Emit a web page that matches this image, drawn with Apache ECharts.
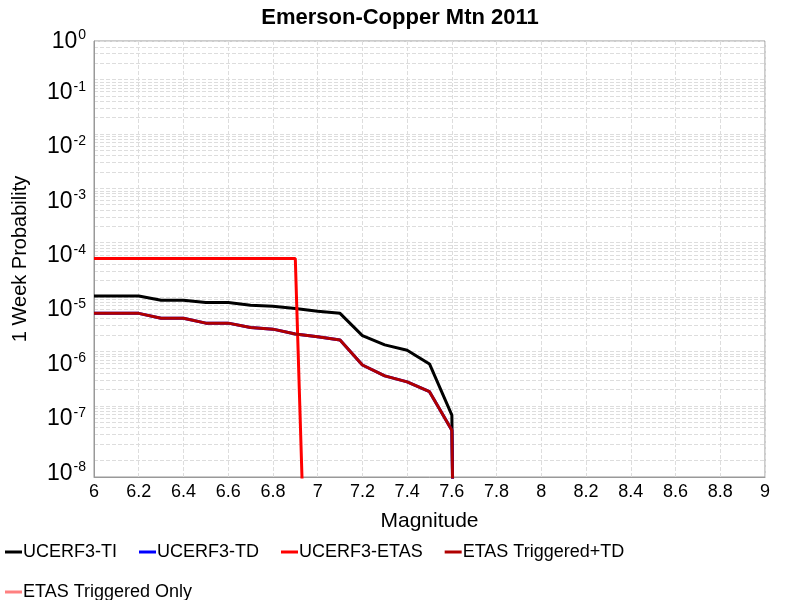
<!DOCTYPE html>
<html>
<head>
<meta charset="utf-8">
<script src="https://cdn.jsdelivr.net/npm/echarts@6/dist/echarts.min.js"></script>
<style>html,body{margin:0;padding:0;background:#fff}#chart{width:800px;height:600px}</style>
</head>
<body>
<div id="chart"></div>
<script>
// values are log10(probability)
var magsTI = [6.0, 6.1, 6.2, 6.3, 6.4, 6.5, 6.6, 6.7, 6.8, 6.9, 7.0, 7.1, 7.2, 7.3, 7.4, 7.5, 7.6, 7.605];
var ucerfTI = [-4.98, -4.98, -4.98, -5.06, -5.06, -5.10, -5.10, -5.15, -5.17, -5.21, -5.26, -5.30, -5.71, -5.88, -5.98, -6.23, -7.17, -9];
var etasTD = [-5.30, -5.30, -5.30, -5.39, -5.39, -5.48, -5.48, -5.56, -5.59, -5.68, -5.73, -5.79, -6.25, -6.45, -6.56, -6.74, -7.45, -9];
var magsETAS = [6.0, 6.1, 6.2, 6.3, 6.4, 6.5, 6.6, 6.7, 6.8, 6.9, 6.935];
var ucerfETAS = [-4.29, -4.29, -4.29, -4.29, -4.29, -4.29, -4.29, -4.29, -4.29, -4.29, -9];
var decades = [-8, -7, -6, -5, -4, -3, -2, -1, 0];

function pairs(xs, ys) {
    return xs.map(function (x, i) { return [x, ys[i]]; });
}
var gridVals = [];
decades.forEach(function (d) {
    for (var k = 1; k < 10; k++) gridVals.push(d + Math.log10(k));
});
// labels sit a little below their decade line, like the original
var labelVals = decades.map(function (d) { return Math.min(d - 0.24, -0.295); });

var myChart = echarts.init(document.getElementById('chart'));
var option = {
    animation: false,
    title: {
        text: 'Emerson-Copper Mtn 2011', left: 'center', top: 2,
        textStyle: { fontFamily: 'Liberation Sans', fontSize: 22, fontWeight: 'bold', color: '#000' }
    },
    grid: { left: 94, right: 35, top: 41, bottom: 123, show: true, borderColor: '#999', borderWidth: 1 },
    legend: {
        left: 0, top: 538, width: 800, itemGap: 22, itemWidth: 17, itemHeight: 3, icon: 'rect',
        textStyle: { fontFamily: 'Liberation Sans', fontSize: 18, color: '#000', padding: [0, 0, 0, -4] },
        data: ['UCERF3-TI', 'UCERF3-TD', 'UCERF3-ETAS', 'ETAS Triggered+TD', 'ETAS Triggered Only']
    },
    xAxis: {
        type: 'value', min: 6, max: 9, interval: 0.2,
        name: 'Magnitude', nameLocation: 'middle', nameGap: 34,
        nameTextStyle: { fontFamily: 'Liberation Sans', fontSize: 21, color: '#000' },
        axisLine: { lineStyle: { color: '#999' } },
        axisTick: { show: false },
        axisLabel: {
            fontFamily: 'Liberation Sans', fontSize: 18, color: '#000', margin: 6,
            formatter: function (v) { return String(Math.round(v * 10) / 10); }
        },
        splitLine: { lineStyle: { color: '#ddd', type: 'dashed' } }
    },
    yAxis: {
        type: 'value', min: -8.31, max: -0.29,
        name: '1 Week Probability', nameLocation: 'middle', nameGap: 64,
        nameTextStyle: { fontFamily: 'Liberation Sans', fontSize: 20, color: '#000' },
        axisLine: { show: true, lineStyle: { color: '#999' } },
        axisTick: { show: false, customValues: gridVals },
        axisLabel: {
            customValues: labelVals, margin: 8,
            formatter: function (v) { return '{b|10}{s|' + (Math.round(v) + 0) + '}'; },
            rich: {
                b: { fontFamily: 'Liberation Sans', fontSize: 23, color: '#000' },
                s: { fontFamily: 'Liberation Sans', fontSize: 14, color: '#000', verticalAlign: 'top', padding: [0, 0, 12, 1] }
            }
        },
        splitLine: { lineStyle: { color: '#ddd', type: 'dashed' } }
    },
    series: [
        { name: 'UCERF3-TI', type: 'line', symbol: 'none', data: pairs(magsTI, ucerfTI), itemStyle: { color: '#000' }, lineStyle: { width: 3, color: '#000' } },
        { name: 'UCERF3-TD', type: 'line', symbol: 'none', data: pairs(magsTI, etasTD), itemStyle: { color: '#0000ff' }, lineStyle: { width: 3, color: '#0000ff' } },
        { name: 'UCERF3-ETAS', type: 'line', symbol: 'none', data: pairs(magsETAS, ucerfETAS), itemStyle: { color: '#ff0000' }, lineStyle: { width: 3, color: '#ff0000' } },
        { name: 'ETAS Triggered+TD', type: 'line', symbol: 'none', data: pairs(magsTI, etasTD), itemStyle: { color: '#b00000' }, lineStyle: { width: 3, color: '#b00000' } },
        { name: 'ETAS Triggered Only', type: 'line', symbol: 'none', data: [], itemStyle: { color: '#ff8080' }, lineStyle: { width: 3, color: '#ff8080' } }
    ]
};
myChart.setOption(option);
</script>
</body>
</html>
